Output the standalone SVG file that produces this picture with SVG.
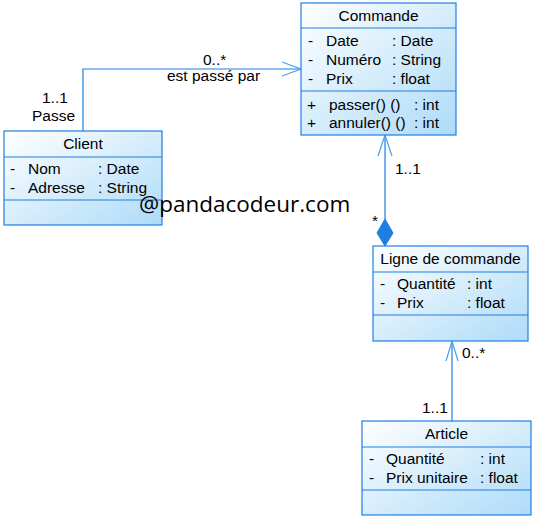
<svg xmlns="http://www.w3.org/2000/svg" width="540" height="520" viewBox="0 0 540 520">
<defs>
<linearGradient id="g" x1="0" y1="0" x2="1" y2="1">
<stop offset="0" stop-color="#ffffff"/>
<stop offset="1" stop-color="#aedbf8"/>
</linearGradient>
<style>
.box{fill:url(#g);stroke:#1e7fe3;stroke-width:1.2}
.sep{stroke:#1e7fe3;stroke-width:1.2}
.ln{stroke:#1e7fe3;stroke-width:1.2;fill:none}
.ar{stroke:#4aa0ee;stroke-width:1.2;fill:none}
text{font-family:"Liberation Sans",Arial,sans-serif;font-size:15.5px;fill:#000}
.t{text-anchor:middle}
.wm{font-family:"Open Sans","Noto Sans",sans-serif;font-size:22.5px}
</style>
</defs>
<rect width="540" height="520" fill="#ffffff"/>
<g id="connectors">
<polyline class="ln" points="83,131 83,69 301,69"/>
<polyline class="ar" points="282,62 301,69 282,76"/>
<line class="ln" x1="385" y1="135" x2="385" y2="220"/>
<polyline class="ar" points="378,156 385,135 392,156"/>
<polygon points="385,219 393,233 385,246 377,233" fill="#1e7fe3" stroke="#1e7fe3"/>
<line class="ln" x1="452" y1="341" x2="452" y2="421"/>
<polyline class="ar" points="446,361 452,341 458,361"/>
<text x="203" y="65">0..*</text>
<text x="167" y="81">est passé par</text>
<text x="42" y="103">1..1</text>
<text x="32" y="121">Passe</text>
<text x="395" y="174">1..1</text>
<text x="372" y="226">*</text>
<text x="462" y="358">0..*</text>
<text x="422" y="413">1..1</text>
</g>
<g id="commande">
<rect class="box" x="301" y="3" width="155" height="132"/>
<line class="sep" x1="301" y1="28" x2="456" y2="28"/>
<line class="sep" x1="301" y1="91" x2="456" y2="91"/>
<text class="t" x="378.5" y="21">Commande</text>
<text x="308" y="46">-</text><text x="326" y="46">Date</text><text x="392" y="46">: Date</text>
<text x="308" y="65">-</text><text x="326" y="65">Numéro</text><text x="392" y="65">: String</text>
<text x="308" y="84">-</text><text x="326" y="84">Prix</text><text x="392" y="84">: float</text>
<text x="307" y="110">+</text><text x="329" y="110">passer() ()</text><text x="414" y="110">: int</text>
<text x="307" y="128">+</text><text x="329" y="128">annuler() ()</text><text x="414" y="128">: int</text>
</g>
<g id="client">
<rect class="box" x="4" y="131" width="158" height="94"/>
<line class="sep" x1="4" y1="157" x2="162" y2="157"/>
<line class="sep" x1="4" y1="200" x2="162" y2="200"/>
<text class="t" x="83" y="149">Client</text>
<text x="10" y="174">-</text><text x="28" y="174">Nom</text><text x="98" y="174">: Date</text>
<text x="10" y="193">-</text><text x="28" y="193">Adresse</text><text x="98" y="193">: String</text>
</g>
<g id="ligne">
<rect class="box" x="373" y="246" width="155" height="95"/>
<line class="sep" x1="373" y1="272" x2="528" y2="272"/>
<line class="sep" x1="373" y1="315" x2="528" y2="315"/>
<text class="t" x="450.5" y="264">Ligne de commande</text>
<text x="380" y="289">-</text><text x="397" y="289">Quantité</text><text x="467" y="289">: int</text>
<text x="380" y="308">-</text><text x="397" y="308">Prix</text><text x="467" y="308">: float</text>
</g>
<g id="article">
<rect class="box" x="362" y="421" width="169" height="94"/>
<line class="sep" x1="362" y1="447" x2="531" y2="447"/>
<line class="sep" x1="362" y1="490" x2="531" y2="490"/>
<text class="t" x="446.5" y="439">Article</text>
<text x="369" y="464">-</text><text x="386" y="464">Quantité</text><text x="480" y="464">: int</text>
<text x="369" y="483">-</text><text x="386" y="483">Prix unitaire</text><text x="480" y="483">: float</text>
</g>
<text class="wm" x="139" y="212">@pandacodeur.com</text>
</svg>
